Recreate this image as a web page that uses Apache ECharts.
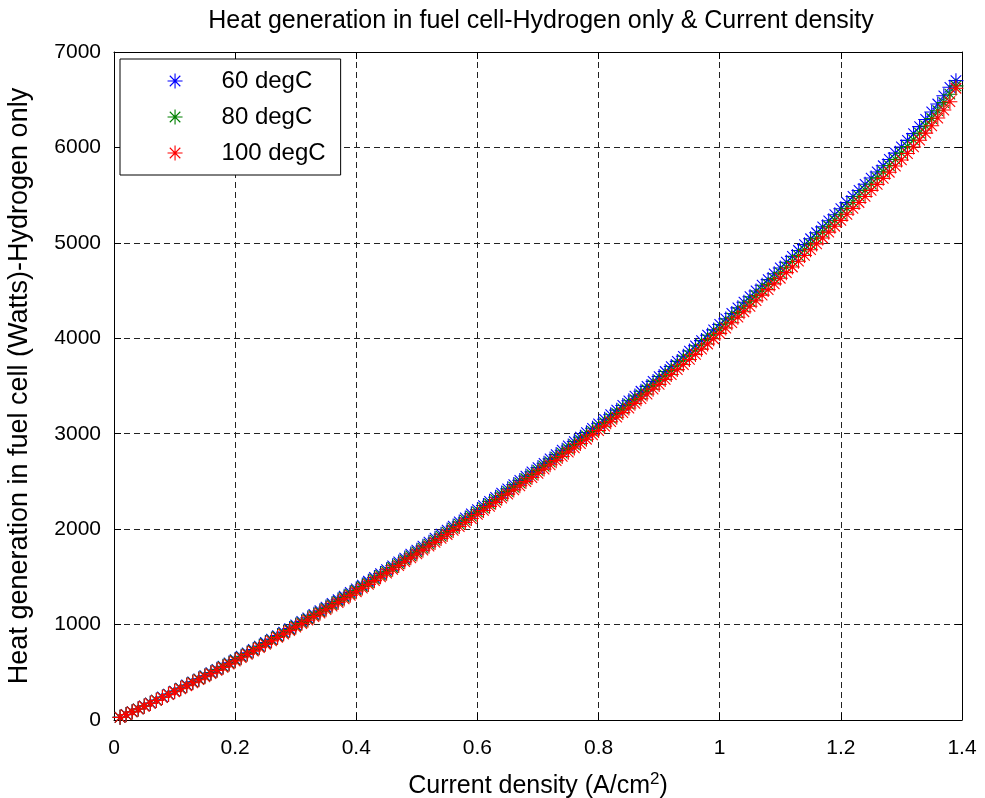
<!DOCTYPE html>
<html>
<head>
<meta charset="utf-8">
<script src="https://cdn.jsdelivr.net/npm/echarts@6/dist/echarts.min.js"></script>
<style>
html,body{margin:0;padding:0;background:#fff;}
#chart{width:985px;height:798px;}
</style>
</head>
<body>
<div id="chart"></div>
<script>
var titleText = 'Heat generation in fuel cell-Hydrogen only & Current density';
var xName = 'Current density';
var yName = 'Heat generation in fuel cell (Watts)-Hydrogen only';
var seriesNames = ['60 degC', '80 degC', '100 degC'];
var xTicks = [0, 0.2, 0.4, 0.6, 0.8, 1, 1.2, 1.4];
var yTicks = [0, 1000, 2000, 3000, 4000, 5000, 6000, 7000];

var currentDensity = [0.01,0.02,0.03,0.04,0.05,0.06,0.07,0.08,0.09,0.10,
0.11,0.12,0.13,0.14,0.15,0.16,0.17,0.18,0.19,0.20,
0.21,0.22,0.23,0.24,0.25,0.26,0.27,0.28,0.29,0.30,
0.31,0.32,0.33,0.34,0.35,0.36,0.37,0.38,0.39,0.40,
0.41,0.42,0.43,0.44,0.45,0.46,0.47,0.48,0.49,0.50,
0.51,0.52,0.53,0.54,0.55,0.56,0.57,0.58,0.59,0.60,
0.61,0.62,0.63,0.64,0.65,0.66,0.67,0.68,0.69,0.70,
0.71,0.72,0.73,0.74,0.75,0.76,0.77,0.78,0.79,0.80,
0.81,0.82,0.83,0.84,0.85,0.86,0.87,0.88,0.89,0.90,
0.91,0.92,0.93,0.94,0.95,0.96,0.97,0.98,0.99,1.00,
1.01,1.02,1.03,1.04,1.05,1.06,1.07,1.08,1.09,1.10,
1.11,1.12,1.13,1.14,1.15,1.16,1.17,1.18,1.19,1.20,
1.21,1.22,1.23,1.24,1.25,1.26,1.27,1.28,1.29,1.30,
1.31,1.32,1.33,1.34,1.35,1.36,1.37,1.38,1.39];

var heat60 = [28,58,87,117,148,178,209,241,272,303,
335,367,399,432,464,497,531,564,599,633,
668,704,739,775,812,848,885,921,958,996,
1033,1071,1108,1145,1183,1221,1260,1298,1337,1375,
1414,1454,1494,1535,1575,1616,1656,1697,1739,1780,
1822,1863,1905,1947,1990,2032,2075,2117,2161,2204,
2247,2291,2334,2378,2422,2467,2511,2556,2600,2645,
2690,2736,2781,2827,2872,2918,2964,3011,3057,3104,
3151,3199,3247,3296,3345,3395,3445,3496,3548,3599,
3652,3704,3758,3811,3866,3921,3976,4032,4088,4145,
4203,4260,4319,4378,4436,4496,4556,4615,4676,4737,
4797,4858,4920,4981,5043,5106,5168,5231,5295,5358,
5422,5486,5549,5614,5679,5743,5808,5874,5940,6005,
6074,6145,6218,6293,6372,6455,6541,6630,6700];

var heat80 = [28,57,86,116,146,176,207,238,269,300,
331,363,395,427,459,492,525,558,592,626,
661,696,731,767,803,839,875,911,948,985,
1022,1059,1096,1133,1170,1208,1246,1284,1322,1360,
1399,1438,1478,1518,1558,1598,1638,1679,1720,1761,
1802,1843,1884,1926,1968,2010,2052,2094,2137,2180,
2223,2266,2309,2352,2396,2440,2484,2528,2572,2616,
2661,2706,2751,2796,2841,2886,2932,2978,3024,3070,
3117,3164,3212,3260,3309,3358,3408,3458,3509,3560,
3612,3664,3717,3770,3824,3878,3933,3988,4044,4100,
4157,4214,4272,4330,4388,4447,4506,4565,4625,4685,
4745,4805,4866,4927,4988,5050,5112,5174,5237,5300,
5363,5426,5489,5553,5617,5681,5745,5810,5875,5940,
6008,6078,6150,6225,6303,6385,6470,6558,6645];

var heat100 = [28,56,85,115,144,174,205,235,266,296,
327,359,390,422,453,486,519,551,585,618,
653,688,722,758,793,829,865,900,937,973,
1010,1046,1083,1119,1156,1194,1231,1269,1306,1344,
1382,1421,1460,1500,1539,1579,1618,1659,1699,1740,
1780,1821,1861,1903,1944,1986,2027,2069,2111,2154,
2196,2239,2281,2324,2367,2411,2454,2498,2541,2585,
2629,2674,2718,2762,2807,2851,2897,2942,2988,3033,
3080,3126,3173,3221,3269,3318,3367,3416,3467,3517,
3569,3620,3672,3725,3778,3831,3886,3940,3995,4051,
4107,4163,4221,4278,4335,4394,4452,4510,4570,4629,
4688,4747,4808,4868,4928,4989,5051,5112,5174,5236,
5299,5361,5423,5486,5550,5613,5676,5740,5805,5869,
5936,6005,6076,6150,6227,6308,6392,6479,6620];

var colors = ['#0000ff', '#008000', '#ff0000'];
var star = 'path://M0 10 L20 10 M10 0 L10 20 M3 3 L17 17 M17 3 L3 17';
var FONT = 'Liberation Sans, Arial, sans-serif';

function pairs(xs, ys) {
  var out = [];
  for (var i = 0; i < xs.length; i++) out.push([xs[i], ys[i]]);
  return out;
}

var allSeries = [heat60, heat80, heat100].map(function (ys, i) {
  return {
    name: seriesNames[i],
    type: 'scatter',
    xAxisIndex: 0,
    yAxisIndex: 0,
    symbol: star,
    symbolSize: 15,
    itemStyle: { color: 'rgba(0,0,0,0)', borderColor: colors[i], borderWidth: 1.1, opacity: 1 },
    emphasis: { disabled: true },
    animation: false,
    data: pairs(currentDensity, ys)
  };
});

var chart = echarts.init(document.getElementById('chart'), null, { renderer: 'canvas' });

var gridLine = { show: true, lineStyle: { color: '#222', width: 1, type: [6, 4] } };
var axisLineStyle = { show: true, onZero: false, lineStyle: { color: '#000', width: 1 } };
var plainNum = function (v) { return String(v); };

chart.setOption({
  backgroundColor: '#fff',
  animation: false,
  title: {
    text: titleText,
    left: 536,
    top: 4,
    textAlign: 'center',
    textStyle: { fontFamily: FONT, fontSize: 25, fontWeight: 'normal', color: '#000' }
  },
  legend: {
    data: seriesNames.map(function (n, i) {
      return { name: n, icon: star, itemStyle: { color: 'rgba(0,0,0,0)', borderColor: colors[i], borderWidth: 1.1 } };
    }),
    orient: 'vertical',
    left: 120,
    top: 59,
    itemWidth: 15,
    itemHeight: 15,
    itemGap: 12,
    padding: [10, 15, 10, 47],
    backgroundColor: '#fff',
    borderColor: '#000',
    borderWidth: 1,
    borderRadius: 0,
    selectedMode: false,
    textStyle: { fontFamily: FONT, fontSize: 24, color: '#000', lineHeight: 20, padding: [0, 0, 0, 34] }
  },
  grid: { left: 114, right: 23, top: 52, bottom: 78, containLabel: false, outerBoundsMode: 'none' },
  xAxis: [{
    type: 'value',
    min: xTicks[0], max: xTicks[xTicks.length - 1], interval: 0.2,
    position: 'bottom',
    name: '{t|' + xName + ' (A/cm}{s|2}{t|)}',
    nameLocation: 'middle',
    nameGap: 51,
    nameTextStyle: {
      rich: {
        t: { fontFamily: FONT, fontSize: 25, color: '#000', verticalAlign: 'bottom', lineHeight: 28 },
        s: { fontFamily: FONT, fontSize: 17, color: '#000', verticalAlign: 'top', lineHeight: 28, padding: [0, 0, 12, 0] }
      }
    },
    axisLine: axisLineStyle,
    axisTick: { show: true, inside: true, length: 7, lineStyle: { color: '#000' } },
    axisLabel: { fontFamily: FONT, fontSize: 21, color: '#000', margin: 18, formatter: plainNum },
    splitLine: gridLine
  }, {
    type: 'value',
    min: xTicks[0], max: xTicks[xTicks.length - 1], interval: 0.2,
    position: 'top',
    axisLine: axisLineStyle,
    axisTick: { show: true, inside: true, length: 7, lineStyle: { color: '#000' } },
    axisLabel: { show: false },
    splitLine: { show: false }
  }],
  yAxis: [{
    type: 'value',
    min: yTicks[0], max: yTicks[yTicks.length - 1], interval: 1000,
    position: 'left',
    name: yName,
    nameLocation: 'middle',
    nameGap: 81,
    nameTextStyle: { fontFamily: FONT, fontSize: 27, color: '#000' },
    axisLine: axisLineStyle,
    axisTick: { show: true, inside: true, length: 7, lineStyle: { color: '#000' } },
    axisLabel: { fontFamily: FONT, fontSize: 21, color: '#000', margin: 13, formatter: plainNum },
    splitLine: gridLine
  }, {
    type: 'value',
    min: yTicks[0], max: yTicks[yTicks.length - 1], interval: 1000,
    position: 'right',
    axisLine: axisLineStyle,
    axisTick: { show: true, inside: true, length: 7, lineStyle: { color: '#000' } },
    axisLabel: { show: false },
    splitLine: { show: false }
  }],
  series: allSeries
});
</script>
</body>
</html>
